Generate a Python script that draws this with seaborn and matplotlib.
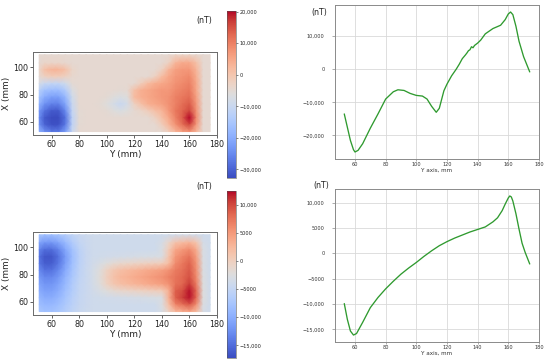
import matplotlib
matplotlib.use("Agg")
import matplotlib.pyplot as plt
import matplotlib.ticker as mticker
import numpy as np
import pandas as pd
import seaborn as sns

# ---------------- data ----------------
# heat-map grid (mm)
map_y_mm = [51, 55, 60, 65, 70, 75, 80, 85, 90, 95, 100, 105, 110, 115, 120,
            125, 130, 135, 140, 145, 150, 155, 160, 165, 170, 175]
map_x_mm = [109, 103, 98, 93, 88, 83, 78, 73, 68, 63, 58, 53]

# top map, field in thousands of nT, rows follow map_x_mm
top_map_knT = [
    [-4.5, -4.5, -4.5, -4.5, -4.5, -4.5, -4.5, -4.5, -4.5, -4.5, -4.5, -4.5, -4.5, -4.5, -4.5, -4.5, -4.5, -4.5, -4.5, -4.5, -3.5, -3.5, -3.5, -4, -4.5, -4.5],
    [-4.5, -3.5, -3.5, -3.5, -4, -4.5, -4.5, -4.5, -4.5, -4.5, -4.5, -4.5, -4.5, -4.5, -4.5, -4.5, -4.5, -4.5, -4.5, -2.5, 3, 4.5, 4.5, 1, -4.5, -4.5],
    [-3.5, 1, 3, 3, 1, -3.5, -4.5, -4.5, -4.5, -4.5, -4.5, -4.5, -4.5, -4.5, -4.5, -4.5, -4.5, -4.5, -2.5, 3, 6, 7, 7, 3, -4.5, -4.5],
    [-4.5, -2.5, -1.5, -1.5, -2.5, -4, -4.5, -4.5, -4.5, -4.5, -4.5, -4.5, -4.5, -4.5, -4.5, -4.5, -4.5, -2.5, 2, 5, 7, 8, 9, 4, -4.5, -4.5],
    [-8, -10, -11, -11, -9, -5, -4.5, -4.5, -4.5, -4.5, -4.5, -4.5, -4.5, -4.5, -4.5, -1.5, 2, 4, 5, 6, 8, 9, 10, 5, -4.5, -4.5],
    [-13, -16, -17, -17, -14, -7, -4.5, -4.5, -4.5, -4.5, -4.5, -4.5, -5, -4.5, 1, 4, 5, 6, 7, 7, 9, 10, 11, 5, -4.5, -4.5],
    [-16, -20, -22, -22, -18, -9, -4.5, -4.5, -4.5, -4.5, -5, -6, -7, -6, 2, 4, 5, 6, 7, 8, 10, 11, 12, 6, -4.5, -4.5],
    [-19, -24, -26, -26, -21, -10, -4.5, -4.5, -4.5, -5, -6, -8, -10, -8, -2.5, 1, 4, 5, 6, 8, 10, 12, 14, 7, -4.5, -4.5],
    [-23, -28, -31, -31, -25, -11, -5, -4.5, -4.5, -4.5, -5, -6, -7, -6, -4.5, -3.5, -1.5, 1, 3, 7, 11, 13, 16, 8, -4.5, -4.5],
    [-25, -31, -32.5, -32.5, -28, -12, -5, -4.5, -4.5, -4.5, -4.5, -4.5, -4.5, -4.5, -4.5, -4.5, -4.5, -2.5, 1, 5, 10, 14, 20, 9, -4.5, -4.5],
    [-24, -30, -32, -32, -27, -12, -5, -4.5, -4.5, -4.5, -4.5, -4.5, -4.5, -4.5, -4.5, -4.5, -4.5, -4.5, -1.5, 3, 8, 12, 16, 7, -4.5, -4.5],
    [-19, -24, -27, -27, -22, -10, -4.5, -4.5, -4.5, -4.5, -4.5, -4.5, -4.5, -4.5, -4.5, -4.5, -4.5, -4.5, -4.5, -1.5, 3, 6, 8, 3, -4.5, -4.5],
]

# bottom map, field in thousands of nT, rows follow map_x_mm
bot_map_knT = [
    [-7.4, -8, -8, -7.4, -6.4, -5.4, -4.6, -4.2, -4, -4, -4, -4, -4, -4, -4, -4, -4, -4, -4, -4, -3.8, -3.5, -3.5, -3.8, -4, -4],
    [-10.8, -12, -12, -10.8, -8.8, -6.8, -5.2, -4.4, -4, -4, -4, -4, -4, -4, -4, -4, -4, -4, -3.3, -0.9, 1.6, 2.3, 3, 1.3, -3.3, -4],
    [-13.4, -15, -15, -13.4, -10.6, -7.9, -5.7, -4.6, -4, -4, -4, -4, -4, -4, -4, -4, -4, -4, -3, 0.5, 4, 5, 6, 3.5, -3, -4],
    [-14.6, -16.5, -16.5, -14.6, -11.5, -8.4, -5.9, -4.6, -4, -3.9, -3.7, -3.6, -3.5, -3.4, -3.3, -3.2, -3.2, -3.1, -3, 1.2, 5.2, 6.4, 7.5, 4.6, -2.9, -4],
    [-14.2, -16, -16, -14.2, -11.2, -8.2, -5.8, -4.6, -3.8, -3.1, -2.2, -1.5, -1.1, -0.85, -0.6, -0.4, -0.2, 0.05, 0.3, 2, 6, 7.25, 8.5, 5.4, -2.75, -4],
    [-12.9, -14.5, -14.5, -12.9, -10.3, -7.7, -5.6, -4.5, -3.55, -2.2, -0.4, 0.95, 1.85, 2.3, 2.75, 3.2, 3.65, 4.1, 4.55, 5.5, 7, 7.7, 9, 5.75, -2.7, -4],
    [-11.7, -13, -13, -11.7, -9.4, -7.2, -5.4, -4.5, -3.5, -2, 0, 1.5, 2.5, 3, 3.5, 4, 4.5, 5, 5.5, 6.5, 7.5, 8.2, 9.5, 6.1, -2.65, -4],
    [-10.8, -12, -12, -10.8, -8.8, -6.8, -5.2, -4.4, -3.55, -2.2, -0.4, 0.95, 1.85, 2.3, 2.75, 3.2, 3.65, 4.1, 4.55, 5.5, 7.6, 8.3, 10.5, 6.9, -2.5, -4],
    [-10, -11, -11, -10, -8.2, -6.5, -5, -4.4, -3.8, -3.1, -2.2, -1.5, -1.1, -0.85, -0.6, -0.4, -0.2, 0.05, 0.3, 3.2, 8.8, 9.6, 12, 8, -2.4, -4],
    [-9.1, -10, -10, -9.1, -7.6, -6.1, -4.9, -4.3, -4, -3.9, -3.8, -3.7, -3.6, -3.5, -3.4, -3.3, -3.2, -3.1, -3, 3.2, 8.8, 10.4, 12, 8, -2.4, -4],
    [-8.3, -9, -9, -8.3, -7, -5.8, -4.8, -4.3, -4, -4, -4, -4, -4, -4, -4, -4, -4, -4, -2.7, 1.85, 6.4, 7.7, 9, 5.75, -2.7, -4],
    [-7.4, -8, -8, -7.4, -6.4, -5.4, -4.6, -4.2, -4, -4, -4, -4, -4, -4, -4, -4, -4, -4, -3.2, -0.4, 2.4, 3.2, 4, 2, -3.2, -4],
]

top_cbar_range = [-32700, 20200]
bot_cbar_range = [-17250, 12400]
top_cbar_ticks = [20000, 10000, 0, -10000, -20000, -30000]
bot_cbar_ticks = [10000, 5000, 0, -5000, -10000, -15000]

# profile lines
top_line_y = [53, 55, 57, 59, 60, 62, 65, 70, 75, 80, 85, 88, 92, 96, 100, 104,
              107, 110, 113, 115, 118, 120, 123, 126, 128, 130, 132, 133, 134,
              135, 136, 137, 138, 140, 142, 145, 150, 155, 158, 160, 161.5,
              163, 165, 167, 170, 172, 174]
top_line_nT = [-13500, -17500, -21500, -24300, -25000, -24500, -22500, -17800,
               -13500, -9000, -6800, -6200, -6400, -7300, -7900, -8100, -9000,
               -11200, -13000, -11800, -6500, -4500, -2000, 0, 1500, 3200,
               4300, 4900, 5600, 5900, 6800, 6500, 7200, 7900, 8800, 10700,
               12300, 13300, 15000, 16700, 17300, 16500, 13000, 8500, 3800,
               1500, -800]

bot_line_y = [53, 55, 57, 59, 61, 65, 70, 75, 80, 85, 90, 95, 100, 105, 110,
              115, 120, 125, 130, 135, 140, 145, 150, 153, 156, 158, 160, 161,
              162, 163, 165, 167, 169, 171, 174]
bot_line_nT = [-9900, -13000, -15300, -16100, -15800, -13600, -10700, -8700,
               -7000, -5500, -4100, -2900, -1800, -600, 500, 1500, 2300, 3000,
               3600, 4200, 4700, 5200, 6200, 7000, 8400, 9700, 10900, 11300,
               11100, 10300, 7800, 4800, 2000, 200, -2100]

# ---------------- style ----------------
sns.set_style("whitegrid")
plt.rcParams["font.family"] = ["DejaVu Sans"]
plt.rcParams["axes.unicode_minus"] = True

W, H = 550, 363
fig = plt.figure(figsize=(W / 100, H / 100), dpi=100)


def rect(left, top, right, bottom):
    return [left / W, 1 - bottom / H, (right - left) / W, (bottom - top) / H]


def fmt(v, pos=None):
    s = f"{abs(v):,.0f}" if abs(v) >= 10000 else f"{abs(v):.0f}"
    return ("\u2212" + s) if v < 0 else s


LINE_GREEN = "#2f9a2f"
SPINE = "#8a8a8a"


def heat_panel(ax_rect, cax_rect, data, vrange, cticks, label_xy):
    ax = fig.add_axes(ax_rect)
    z = np.array(data) * 1000.0
    mesh = ax.pcolormesh(map_y_mm, map_x_mm, z, shading="gouraud",
                         cmap="coolwarm", vmin=vrange[0], vmax=vrange[1],
                         rasterized=True)
    ax.set_xlim(46.5, 180)
    ax.set_ylim(50.5, 111)
    ax.grid(False)
    ax.set_facecolor("white")
    ax.set_xticks([60, 80, 100, 120, 140, 160, 180])
    ax.set_yticks([60, 80, 100])
    ax.tick_params(labelsize=5.8, length=2, width=0.5, pad=1.5,
                   bottom=True, left=True, colors="#222222")
    for s in ax.spines.values():
        s.set_color("#6a6a6a")
        s.set_linewidth(0.7)
    ax.set_xlabel("Y (mm)", fontsize=6.4, labelpad=1, color="#222222")
    ax.set_ylabel("X (mm)", fontsize=6.4, labelpad=1.5, color="#222222")

    cax = fig.add_axes(cax_rect)
    cb = fig.colorbar(mesh, cax=cax)
    cb.set_ticks(cticks)
    cb.ax.yaxis.set_major_formatter(mticker.FuncFormatter(fmt))
    cb.ax.tick_params(labelsize=3.6, length=1.5, width=0.4, pad=1,
                      right=True, colors="#222222")
    cb.outline.set_linewidth(0.4)
    cb.outline.set_edgecolor("#555555")
    cax.grid(False)
    fig.text(label_xy[0] / W, 1 - label_xy[1] / H, "(nT)", fontsize=5.7,
             ha="center", va="center", color="#222222")


def line_panel(ax_rect, xs, ys, label_xy):
    ax = fig.add_axes(ax_rect)
    df = pd.DataFrame({"y_mm": xs, "field": ys})
    sns.lineplot(data=df, x="y_mm", y="field", ax=ax, color=LINE_GREEN,
                 linewidth=0.95, sort=False)
    ax.set_xticks([60, 80, 100, 120, 140, 160, 180])
    ax.yaxis.set_major_formatter(mticker.FuncFormatter(fmt))
    ax.grid(True, color="#d9d9d9", linewidth=0.6)
    ax.tick_params(axis="x", labelsize=3.6, length=1.5, width=0.5, pad=1,
                   bottom=True, color=SPINE, labelcolor="#333333")
    ax.tick_params(axis="y", labelsize=3.6, length=2, width=0.5, pad=5.5,
                   left=True, color=SPINE, labelcolor="#333333")
    for s in ax.spines.values():
        s.set_color(SPINE)
        s.set_linewidth(0.7)
    ax.set_xlabel("Y axis, mm", fontsize=4.1, labelpad=0.5, color="#333333")
    ax.set_ylabel("")
    fig.text(label_xy[0] / W, 1 - label_xy[1] / H, "(nT)", fontsize=5.7,
             ha="center", va="center", color="#222222")
    return ax


heat_panel(rect(33, 52, 217, 135), rect(227, 11, 236, 178),
           top_map_knT, top_cbar_range, top_cbar_ticks, (204, 20))
heat_panel(rect(33, 232, 217, 315), rect(227, 191, 236, 358),
           bot_map_knT, bot_cbar_range, bot_cbar_ticks, (204, 187))

line_panel(rect(335, 5, 539, 159), top_line_y, top_line_nT, (319, 13))
line_panel(rect(335, 189, 539, 342), bot_line_y, bot_line_nT, (321, 186))

fig.savefig("out.png", dpi=100, facecolor="white")
